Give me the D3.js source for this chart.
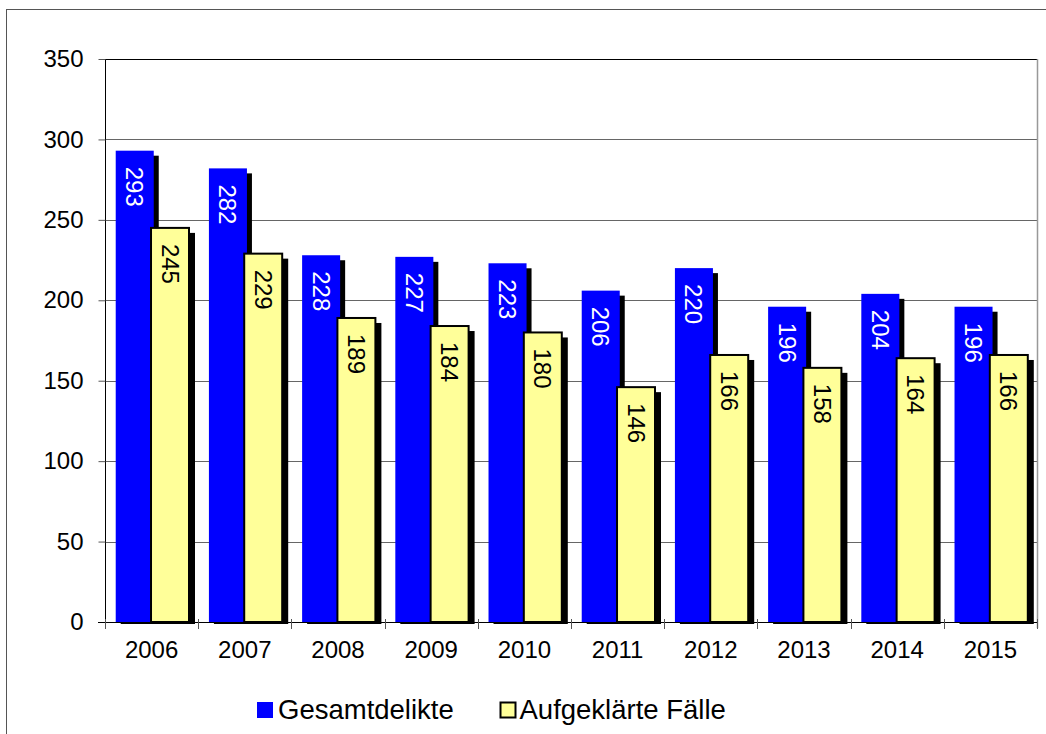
<!DOCTYPE html>
<html>
<head>
<meta charset="utf-8">
<script src="https://cdn.jsdelivr.net/npm/d3@7"></script>
<style>
  html, body { margin: 0; padding: 0; background: #fff; }
  svg { display: block; font-family: "Liberation Sans", Arial, sans-serif; }
</style>
</head>
<body>
<svg id="chart" width="1046" height="734"></svg>
<script>
const years = ["2006","2007","2008","2009","2010","2011","2012","2013","2014","2015"];
const gesamtdelikte = [293, 282, 228, 227, 223, 206, 220, 196, 204, 196];
const aufgeklaert = [245, 229, 189, 184, 180, 146, 166, 158, 164, 166];
const yTicks = [0, 50, 100, 150, 200, 250, 300, 350];
const seriesNames = ["Gesamtdelikte", "Aufgeklärte Fälle"];

(function () {
const svg = d3.select("#chart");
const pLeft = 105, pRight = 1037, pTop = 59, pBottom = 622;
const FS = 24;

const x = d3.scaleBand().domain(years).range([pLeft, pRight]).padding(0);
const y = d3.scaleLinear().domain([0, 350]).range([pBottom, pTop]);
const bw = x.bandwidth();

// outer chart border
svg.append("rect").attr("x", 6.5).attr("y", 9.5).attr("width", 1100).attr("height", 800)
  .attr("fill", "none").attr("stroke", "#555").attr("stroke-width", 1);

// gridlines
svg.append("g").selectAll("line").data(yTicks.filter(d => d > 0)).join("line")
  .attr("x1", pLeft).attr("x2", pRight)
  .attr("y1", d => Math.round(y(d)) + 0.5).attr("y2", d => Math.round(y(d)) + 0.5)
  .attr("stroke", d => d === 350 ? "#000" : "#666").attr("stroke-width", 1);

// plot right border
svg.append("line").attr("x1", pRight + 0.5).attr("x2", pRight + 0.5).attr("y1", pTop).attr("y2", pBottom + 6)
  .attr("stroke", "#999").attr("stroke-width", 1.5);

// bars
const g = svg.append("g");
const bx = d => x(d) + 0.115 * bw;
const bW = 0.408 * bw;
const yx = d => x(d) + 0.483 * bw + 1;
const yW = 0.429 * bw - 2;

years.forEach((yr, i) => {
  const v1 = gesamtdelikte[i], v2 = aufgeklaert[i];
  g.append("rect").attr("x", bx(yr) + 5).attr("y", y(v1) + 5)
    .attr("width", bW).attr("height", pBottom + 2 - (y(v1) + 5)).attr("fill", "#000");
  g.append("rect").attr("x", bx(yr)).attr("y", y(v1))
    .attr("width", bW).attr("height", pBottom - y(v1)).attr("fill", "#0000FF");
  g.append("rect").attr("x", yx(yr) + 5).attr("y", y(v2) + 5)
    .attr("width", yW + 1).attr("height", pBottom + 2 - (y(v2) + 5)).attr("fill", "#000");
  g.append("rect").attr("x", yx(yr)).attr("y", y(v2))
    .attr("width", yW).attr("height", pBottom - y(v2)).attr("fill", "#FFFF99")
    .attr("stroke", "#000").attr("stroke-width", 2);
  g.append("text").attr("transform", `translate(${bx(yr) + bW / 2},${y(v1) + 16}) rotate(90)`)
    .attr("text-anchor", "start").attr("dominant-baseline", "central")
    .attr("font-size", FS).attr("fill", "#fff").text(v1);
  g.append("text").attr("transform", `translate(${yx(yr) + yW / 2},${y(v2) + 16}) rotate(90)`)
    .attr("text-anchor", "start").attr("dominant-baseline", "central")
    .attr("font-size", FS).attr("fill", "#000").text(v2);
});

// y axis
const yAxis = svg.append("g").attr("transform", `translate(${pLeft + 0.5},0)`)
  .call(d3.axisLeft(y).tickValues(yTicks).tickSize(7).tickPadding(15));
yAxis.select(".domain").attr("stroke", "#000").attr("d", `M0,${pTop}V${pBottom}`);
yAxis.selectAll(".tick line").attr("stroke", "#555");
yAxis.selectAll(".tick text").attr("font-size", FS).attr("fill", "#000")
  .attr("font-family", "Liberation Sans, Arial, sans-serif");

// x axis
const xAxis = svg.append("g").attr("transform", `translate(0,${pBottom + 0.5})`)
  .call(d3.axisBottom(x).tickSize(0).tickPadding(18));
xAxis.select(".domain").attr("stroke", "#000").attr("d", `M${pLeft - 7},0H${pRight}`);
xAxis.selectAll(".tick text").attr("font-size", FS).attr("fill", "#000")
  .attr("font-family", "Liberation Sans, Arial, sans-serif");
svg.append("g").selectAll("line").data(d3.range(years.length + 1)).join("line")
  .attr("x1", i => Math.round(pLeft + i * bw) + 0.5)
  .attr("x2", i => Math.round(pLeft + i * bw) + 0.5)
  .attr("y1", pBottom - 3).attr("y2", pBottom + 7)
  .attr("stroke", "#555").attr("stroke-width", 1);

// legend
const lg = svg.append("g");
lg.append("rect").attr("x", 257).attr("y", 702).attr("width", 16).attr("height", 16).attr("fill", "#0000FF");
lg.append("text").attr("x", 278).attr("y", 719).attr("font-size", 27.5).attr("fill", "#000").text(seriesNames[0]);
lg.append("rect").attr("x", 500.5).attr("y", 702.5).attr("width", 15).attr("height", 15)
  .attr("fill", "#FFFF99").attr("stroke", "#000").attr("stroke-width", 2);
lg.append("text").attr("x", 519.5).attr("y", 719).attr("font-size", 27.5).attr("fill", "#000").text(seriesNames[1]);
})();
</script>
</body>
</html>
